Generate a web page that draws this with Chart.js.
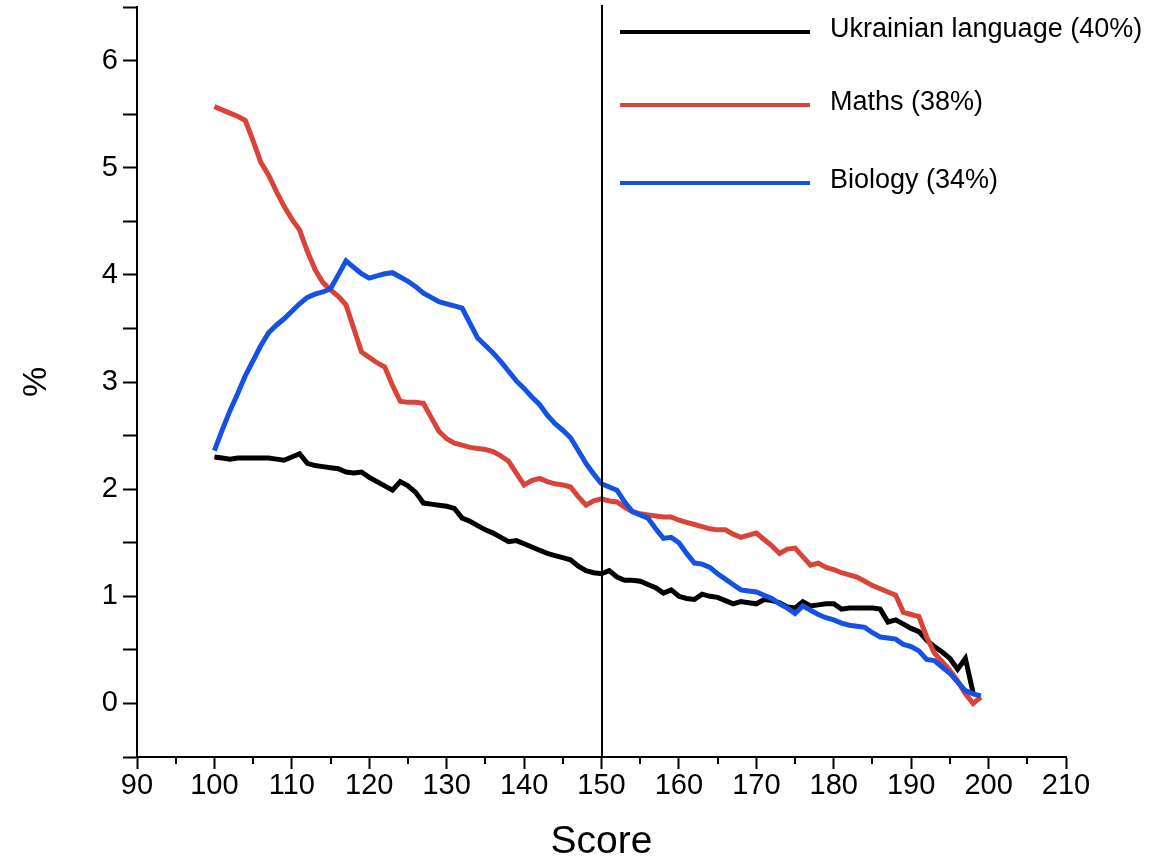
<!DOCTYPE html>
<html>
<head>
<meta charset="utf-8">
<script src="https://cdn.jsdelivr.net/npm/chart.js@4.4.0/dist/chart.umd.min.js"></script>
<style>
  html, body { margin: 0; padding: 0; background: #fff; }
</style>
</head>
<body>
<canvas id="chart" width="1155" height="862"></canvas>
<script>
// Scores (x values)
const scores = [
  100, 101, 102, 103, 104, 105, 106, 107, 108, 109,
  110, 111, 112, 113, 114, 115, 116, 117, 118, 119,
  120, 121, 122, 123, 124, 125, 126, 127, 128, 129,
  130, 131, 132, 133, 134, 135, 136, 137, 138, 139,
  140, 141, 142, 143, 144, 145, 146, 147, 148, 149,
  150, 151, 152, 153, 154, 155, 156, 157, 158, 159,
  160, 161, 162, 163, 164, 165, 166, 167, 168, 169,
  170, 171, 172, 173, 174, 175, 176, 177, 178, 179,
  180, 181, 182, 183, 184, 185, 186, 187, 188, 189,
  190, 191, 192, 193, 194, 195, 196, 197, 198, 199
];

// Ukrainian language (%)
const ukrainian = [
  2.30, 2.29, 2.28, 2.29, 2.29, 2.29, 2.29, 2.29, 2.28, 2.27,
  2.30, 2.33, 2.24, 2.22, 2.21, 2.20, 2.19, 2.16, 2.15, 2.16,
  2.11, 2.07, 2.03, 1.99, 2.07, 2.03, 1.97, 1.87, 1.86, 1.85,
  1.84, 1.82, 1.73, 1.70, 1.66, 1.62, 1.59, 1.55, 1.51, 1.52,
  1.49, 1.46, 1.43, 1.40, 1.38, 1.36, 1.34, 1.28, 1.24, 1.22,
  1.21, 1.24, 1.18, 1.15, 1.15, 1.14, 1.11, 1.08, 1.03, 1.06,
  1.00, 0.98, 0.97, 1.02, 1.00, 0.99, 0.96, 0.93, 0.95, 0.94,
  0.93, 0.97, 0.96, 0.94, 0.90, 0.89, 0.95, 0.91, 0.92, 0.93,
  0.93, 0.88, 0.89, 0.89, 0.89, 0.89, 0.88, 0.76, 0.78, 0.74,
  0.70, 0.67, 0.59, 0.53, 0.48, 0.42, 0.32, 0.42, 0.10, null
];

// Maths (%)
const maths = [
  5.57, 5.54, 5.51, 5.48, 5.44, 5.25, 5.05, 4.93, 4.78, 4.64,
  4.52, 4.42, 4.22, 4.05, 3.93, 3.86, 3.80, 3.72, 3.50, 3.28,
  3.23, 3.18, 3.14, 2.97, 2.82, 2.81, 2.81, 2.80, 2.67, 2.54,
  2.47, 2.43, 2.41, 2.39, 2.38, 2.37, 2.35, 2.31, 2.26, 2.15,
  2.04, 2.08, 2.10, 2.07, 2.05, 2.04, 2.02, 1.93, 1.85, 1.89,
  1.91, 1.89, 1.88, 1.83, 1.79, 1.77, 1.76, 1.75, 1.74, 1.74,
  1.71, 1.69, 1.67, 1.65, 1.63, 1.62, 1.62, 1.58, 1.55, 1.57,
  1.59, 1.53, 1.47, 1.40, 1.44, 1.45, 1.37, 1.29, 1.31, 1.27,
  1.25, 1.22, 1.20, 1.18, 1.14, 1.10, 1.07, 1.04, 1.01, 0.85,
  0.83, 0.81, 0.62, 0.47, 0.39, 0.31, 0.21, 0.09, 0.00, 0.06
];

// Biology (%)
const biology = [
  2.36, 2.55, 2.73, 2.89, 3.06, 3.20, 3.34, 3.46, 3.53, 3.59,
  3.66, 3.73, 3.79, 3.82, 3.84, 3.87, 4.00, 4.13, 4.07, 4.01,
  3.97, 3.99, 4.01, 4.02, 3.98, 3.94, 3.89, 3.83, 3.79, 3.75,
  3.73, 3.71, 3.69, 3.55, 3.41, 3.34, 3.27, 3.19, 3.10, 3.01,
  2.94, 2.86, 2.79, 2.69, 2.61, 2.55, 2.48, 2.36, 2.24, 2.14,
  2.05, 2.02, 1.99, 1.88, 1.79, 1.76, 1.73, 1.63, 1.54, 1.55,
  1.50, 1.40, 1.31, 1.30, 1.27, 1.21, 1.16, 1.11, 1.06, 1.05,
  1.04, 1.01, 0.98, 0.93, 0.89, 0.84, 0.91, 0.87, 0.83, 0.80,
  0.78, 0.75, 0.73, 0.72, 0.71, 0.66, 0.62, 0.61, 0.60, 0.55,
  0.53, 0.49, 0.41, 0.40, 0.34, 0.28, 0.20, 0.12, 0.09, 0.07
];

const seriesLabels = ['Ukrainian language (40%)', 'Maths (38%)', 'Biology (34%)'];
const seriesColors = ['#000000', '#d9443a', '#1552e4'];

const cutoffScore = 150;
const minorXTicks = [95, 105, 115, 125, 135, 145, 155, 165, 175, 185, 195, 205];

const FONT = '"Liberation Sans", Arial, Helvetica, sans-serif';
Chart.defaults.font.family = FONT;
Chart.defaults.color = '#000';

function toPoints(values) {
  return scores.map((s, i) => ({ x: s, y: values[i] }));
}

// Draws the cutoff line, minor x ticks and the legend
const extras = {
  id: 'extras',
  afterDatasetsDraw(chart) {
    const ctx = chart.ctx;
    const xs = chart.scales.x;
    const area = chart.chartArea;
    ctx.save();

    // Cutoff line at 150
    const cx = Math.round(xs.getPixelForValue(cutoffScore));
    ctx.strokeStyle = '#000';
    ctx.lineWidth = 2;
    ctx.beginPath();
    ctx.moveTo(cx, area.top - 2);
    ctx.lineTo(cx, area.bottom);
    ctx.stroke();

    // Minor ticks
    ctx.beginPath();
    minorXTicks.forEach(v => {
      const px = Math.round(xs.getPixelForValue(v));
      ctx.moveTo(px, area.bottom);
      ctx.lineTo(px, area.bottom + 7);
    });
    ctx.stroke();

    // Legend
    const rowY = [32, 105, 183];
    ctx.font = '27px ' + FONT;
    ctx.textBaseline = 'middle';
    ctx.textAlign = 'left';
    chart.data.datasets.forEach((ds, i) => {
      ctx.strokeStyle = ds.borderColor;
      ctx.lineWidth = 4;
      ctx.beginPath();
      ctx.moveTo(620, rowY[i]);
      ctx.lineTo(810, rowY[i]);
      ctx.stroke();
      ctx.fillStyle = '#000';
      ctx.fillText(ds.label, 830, rowY[i] - 2);
    });

    ctx.restore();
  }
};

new Chart(document.getElementById('chart'), {
  type: 'line',
  data: {
    datasets: [
      { label: seriesLabels[0], data: toPoints(ukrainian), borderColor: seriesColors[0], order: 2 },
      { label: seriesLabels[1], data: toPoints(maths), borderColor: seriesColors[1], order: 1 },
      { label: seriesLabels[2], data: toPoints(biology), borderColor: seriesColors[2], order: 0 }
    ]
  },
  options: {
    responsive: false,
    animation: false,
    layout: { padding: { top: 7, right: 89, left: 0, bottom: 0 } },
    elements: {
      line: { borderWidth: 5, tension: 0, fill: false },
      point: { radius: 0 }
    },
    plugins: {
      legend: { display: false },
      tooltip: { enabled: false }
    },
    scales: {
      x: {
        type: 'linear',
        min: 90,
        max: 210,
        ticks: { stepSize: 10, padding: 0, font: { size: 29 }, maxRotation: 0 },
        grid: { drawOnChartArea: false, drawTicks: true, tickLength: 12, tickWidth: 2, tickColor: '#000' },
        border: { display: true, color: '#000', width: 2 },
        title: { display: true, text: 'Score', font: { size: 39, lineHeight: 1.0 }, padding: { top: 0, bottom: 0 } },
        afterFit(scale) { scale.height = 105; }
      },
      y: {
        type: 'linear',
        min: -0.5,
        max: 6.5,
        ticks: {
          stepSize: 0.5,
          padding: 5,
          font: { size: 29 },
          callback: v => Math.abs(v - Math.round(v)) < 1e-6 ? String(Math.round(v)) : ''
        },
        grid: { drawOnChartArea: false, drawTicks: true, tickLength: 14, tickWidth: 2, tickColor: '#000' },
        border: { display: true, color: '#000', width: 2 },
        title: { display: true, text: '%', font: { size: 34, lineHeight: 1.0 }, padding: { top: 20, bottom: 0 } },
        afterFit(scale) {
          scale.width = 137;
          scale.paddingTop = 0;
          scale.paddingBottom = 0;
        }
      }
    }
  },
  plugins: [extras]
});
</script>
</body>
</html>
